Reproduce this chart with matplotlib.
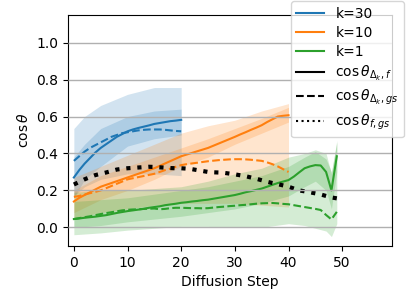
import numpy as np
import matplotlib
matplotlib.use("Agg")
import matplotlib.pyplot as plt
from matplotlib.lines import Line2D

C = {"k=30": "tab:blue", "k=10": "tab:orange", "k=1": "tab:green"}

# k=30 (steps 0..20)
b_solid = [0.27, 0.31, 0.345, 0.375, 0.405, 0.43, 0.45, 0.47, 0.49, 0.505, 0.52,
           0.53, 0.538, 0.545, 0.552, 0.56, 0.565, 0.57, 0.575, 0.578, 0.582]
b_dash = [0.36, 0.385, 0.41, 0.43, 0.445, 0.46, 0.475, 0.49, 0.5, 0.51, 0.515,
          0.52, 0.525, 0.528, 0.53, 0.53, 0.53, 0.528, 0.525, 0.522, 0.52]
b_bx = [0, 2, 5, 10, 15, 20]
b_out_hi = [0.535, 0.6, 0.66, 0.72, 0.757, 0.757]
b_out_lo = [0.17, 0.22, 0.26, 0.29, 0.29, 0.28]
b_in_hi = [0.38, 0.45, 0.535, 0.60, 0.63, 0.64]
b_in_lo = [0.16, 0.26, 0.33, 0.44, 0.48, 0.50]

# k=10 (steps 0..40)
o_solid = [0.14, 0.16, 0.175, 0.19, 0.205, 0.22, 0.23, 0.24, 0.25, 0.26, 0.27,
           0.28, 0.29, 0.30, 0.31, 0.32, 0.333, 0.346, 0.359, 0.372, 0.385,
           0.394, 0.403, 0.412, 0.421, 0.43, 0.442, 0.454, 0.466, 0.478, 0.49,
           0.503, 0.515, 0.528, 0.54, 0.553, 0.57, 0.585, 0.60, 0.604, 0.607]
o_dash = [0.165, 0.17, 0.178, 0.185, 0.192, 0.20, 0.212, 0.224, 0.236, 0.248, 0.26,
          0.266, 0.272, 0.278, 0.284, 0.29, 0.30, 0.31, 0.318, 0.328, 0.337,
          0.342, 0.346, 0.35, 0.354, 0.358, 0.361, 0.364, 0.366, 0.368, 0.369,
          0.369, 0.368, 0.366, 0.363, 0.36, 0.352, 0.342, 0.33, 0.315, 0.30]
o_bx = [0, 5, 10, 15, 20, 25, 30, 35, 40]
o_out_hi = [0.27, 0.33, 0.39, 0.45, 0.51, 0.55, 0.58, 0.63, 0.67]
o_out_lo = [0.05, 0.08, 0.10, 0.12, 0.13, 0.13, 0.13, 0.12, 0.11]
o_in_hi = [0.20, 0.28, 0.33, 0.38, 0.43, 0.48, 0.535, 0.59, 0.65]
o_in_lo = [0.08, 0.15, 0.20, 0.26, 0.33, 0.38, 0.45, 0.51, 0.57]

# k=1 (steps 0..49)
g_solid = [0.045, 0.048, 0.052, 0.055, 0.058, 0.062, 0.066, 0.072, 0.078, 0.083,
           0.088, 0.092, 0.096, 0.10, 0.106, 0.11, 0.114, 0.12, 0.124, 0.128,
           0.133, 0.136, 0.14, 0.143, 0.147, 0.15, 0.155, 0.16, 0.165, 0.17,
           0.175, 0.182, 0.19, 0.196, 0.203, 0.21, 0.22, 0.23, 0.24, 0.248,
           0.256, 0.275, 0.298, 0.32, 0.33, 0.337, 0.335, 0.30, 0.20, 0.385]
g_dash = [0.045, 0.05, 0.055, 0.06, 0.066, 0.072, 0.077, 0.082, 0.087, 0.092,
          0.095, 0.097, 0.098, 0.10, 0.101, 0.102, 0.098, 0.10, 0.104, 0.106,
          0.106, 0.105, 0.104, 0.104, 0.103, 0.104, 0.107, 0.11, 0.112, 0.115,
          0.117, 0.12, 0.122, 0.125, 0.128, 0.13, 0.131, 0.132, 0.13, 0.127,
          0.125, 0.12, 0.115, 0.11, 0.105, 0.10, 0.094, 0.067, 0.043, 0.084]
g_bx = [0, 5, 10, 15, 20, 25, 30, 35, 40, 43, 45, 47, 48, 49]
g_out_hi = [0.19, 0.20, 0.20, 0.21, 0.22, 0.25, 0.29, 0.32, 0.38, 0.40, 0.42, 0.40, 0.29, 0.47]
g_out_lo = [-0.04, -0.03, -0.015, -0.005, 0.005, 0.005, 0.0, 0.0, 0.02, 0.01, -0.005, -0.02, -0.05, 0.02]
g_in_hi = [0.14, 0.15, 0.16, 0.18, 0.20, 0.22, 0.25, 0.28, 0.33, 0.38, 0.41, 0.37, 0.30, 0.46]
g_in_lo = [0.0, 0.01, 0.03, 0.045, 0.06, 0.08, 0.10, 0.13, 0.17, 0.22, 0.25, 0.20, 0.10, 0.30]

# cos theta_{f,gs} (steps 0..49)
fgs = [0.232, 0.246, 0.26, 0.272, 0.283, 0.29, 0.297, 0.305, 0.313, 0.317,
       0.32, 0.322, 0.324, 0.326, 0.328, 0.327, 0.325, 0.323, 0.321, 0.32,
       0.32, 0.318, 0.315, 0.31, 0.305, 0.30, 0.298, 0.297, 0.295, 0.291,
       0.287, 0.282, 0.277, 0.27, 0.263, 0.255, 0.247, 0.24, 0.234, 0.227,
       0.22, 0.21, 0.20, 0.195, 0.19, 0.184, 0.178, 0.17, 0.162, 0.157]

groups = [
    ("k=30", b_solid, b_dash, b_bx, b_out_lo, b_out_hi, b_in_lo, b_in_hi),
    ("k=10", o_solid, o_dash, o_bx, o_out_lo, o_out_hi, o_in_lo, o_in_hi),
    ("k=1", g_solid, g_dash, g_bx, g_out_lo, g_out_hi, g_in_lo, g_in_hi),
]

fig = plt.figure(figsize=(4.07, 3.05), dpi=100)
ax = fig.add_axes([0.167, 0.194, 0.795, 0.757])

for k, sol, das, bx, olo, ohi, ilo, ihi in groups:
    c = C[k]
    ax.fill_between(bx, olo, ohi, color=c, alpha=0.2, lw=0)
    ax.fill_between(bx, ilo, ihi, color=c, alpha=0.2, lw=0)
    ax.plot(np.arange(len(sol)), sol, color=c, lw=1.5)
    ax.plot(np.arange(len(das)), das, color=c, lw=1.5, ls="--")

ax.plot(np.arange(len(fgs)), fgs, color="black", lw=3, ls=":")

ax.set_xlim(-1.1, 59.2)
ax.set_ylim(-0.1, 1.15)
ax.set_xticks([0, 10, 20, 30, 40, 50])
ax.set_yticks([0.0, 0.2, 0.4, 0.6, 0.8, 1.0])
ax.yaxis.grid(True, color="#b0b0b0", lw=1)
ax.set_axisbelow(False)
ax.set_xlabel("Diffusion Step")
ax.set_ylabel(r"$\cos\theta$")

handles = [Line2D([], [], color=C[k], lw=1.5) for k in C]
handles += [Line2D([], [], color="black", lw=1.5, ls=s) for s in ["-", "--", ":"]]
labels = list(C) + [r"$\cos\theta_{\Delta_k, f}$", r"$\cos\theta_{\Delta_k, gs}$", r"$\cos\theta_{f, gs}$"]
fig.legend(handles, labels, loc="upper right", bbox_to_anchor=(404 / 407, 1 - 1 / 305),
           borderaxespad=0, fontsize=10, labelspacing=0.37)

fig.savefig("out.png", dpi=100)
